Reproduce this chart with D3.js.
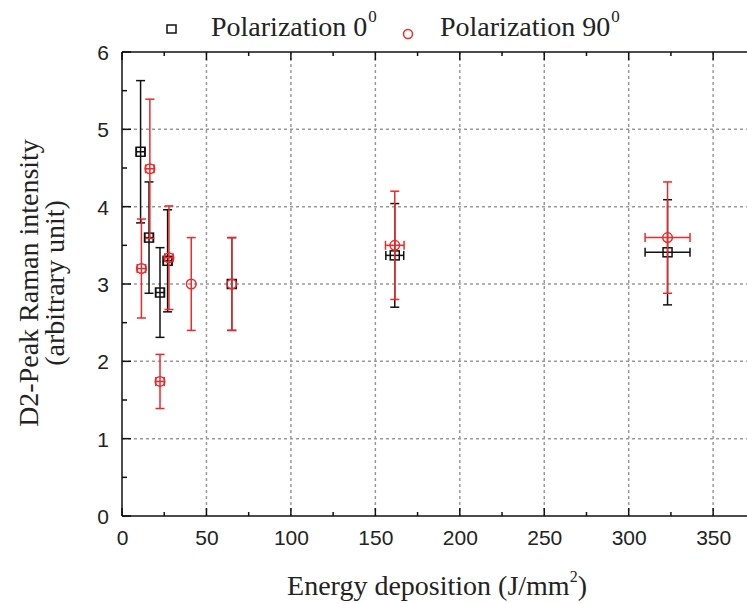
<!DOCTYPE html>
<html>
<head>
<meta charset="utf-8">
<script src="https://cdn.jsdelivr.net/npm/d3@7"></script>
<style>
  body { margin: 0; background: #fff; }
  svg { display: block; }
</style>
</head>
<body>
<div id="chart"></div>
<script>
// Polarization 0 deg (black squares)
const energy0  = [11, 16, 22.5, 27, 65, 161.5, 323];
const pol0     = [4.71, 3.6, 2.89, 3.3, 3.0, 3.37, 3.41];
const pol0Err  = [0.92, 0.72, 0.58, 0.66, 0.6, 0.67, 0.68];
const pol0XErr = [2.5, 2.5, 2.5, 2.5, 0, 5.3, 13.3];

// Polarization 90 deg (red circles)
const energy90  = [11.5, 16.5, 22.5, 27.8, 41, 65, 161.5, 323];
const pol90     = [3.2, 4.49, 1.74, 3.34, 3.0, 3.0, 3.5, 3.6];
const pol90Err  = [0.64, 0.9, 0.35, 0.67, 0.6, 0.6, 0.7, 0.72];
const pol90XErr = [2.5, 2.5, 2.5, 2.5, 0, 0, 5.5, 13.3];

const xTicks = [0, 50, 100, 150, 200, 250, 300, 350];
const yTicks = [0, 1, 2, 3, 4, 5, 6];

const width = 747, height = 604;
const mLeft = 122, mTop = 52, mBottom = 516;
const red = "#f02828";

const svg = d3.select("#chart").append("svg")
  .attr("width", width)
  .attr("height", height);

const x = d3.scaleLinear().domain([0, 372]).range([mLeft, mLeft + 372 * 1.689]);
const y = d3.scaleLinear().domain([0, 6]).range([mBottom, mTop]);

// grid
const grid = svg.append("g")
  .attr("stroke", "#999")
  .attr("stroke-width", 1.5)
  .attr("stroke-dasharray", "3,3");
grid.selectAll(".gx").data(xTicks.filter(d => d > 0)).enter().append("line")
  .attr("x1", d => x(d)).attr("x2", d => x(d))
  .attr("y1", mTop).attr("y2", mBottom);
grid.selectAll(".gy").data(yTicks.filter(d => d > 0 && d < 6)).enter().append("line")
  .attr("x1", mLeft).attr("x2", x(372))
  .attr("y1", d => y(d)).attr("y2", d => y(d));

// axes (ticks pointing inward)
const minorX = d3.range(25, 372, 50);
const minorY = d3.range(0.5, 6, 1);

svg.append("g")
  .attr("transform", `translate(0,${mBottom})`)
  .call(d3.axisBottom(x).tickValues(xTicks).tickSize(0).tickPadding(14))
  .call(g => g.select(".domain").remove())
  .selectAll("text")
  .attr("font-family", "Liberation Sans, Arial, sans-serif")
  .attr("font-size", 21)
  .attr("fill", "#222");

svg.append("g")
  .attr("transform", `translate(${mLeft},0)`)
  .call(d3.axisLeft(y).tickValues(yTicks).tickFormat(d3.format("d")).tickSize(0).tickPadding(13))
  .call(g => g.select(".domain").remove())
  .selectAll("text")
  .attr("font-family", "Liberation Sans, Arial, sans-serif")
  .attr("font-size", 21)
  .attr("fill", "#222")
  .attr("dy", "0.36em");

const frame = svg.append("g").attr("stroke", "#111").attr("stroke-width", 1.5);
frame.append("line").attr("x1", mLeft).attr("x2", x(372)).attr("y1", mBottom).attr("y2", mBottom);
frame.append("line").attr("x1", mLeft).attr("x2", x(372)).attr("y1", mTop).attr("y2", mTop);
frame.append("line").attr("x1", mLeft).attr("x2", mLeft).attr("y1", mTop).attr("y2", mBottom);

// x ticks on bottom and top
[[xTicks, 8], [minorX, 4]].forEach(([vals, len]) => {
  frame.selectAll(null).data(vals).enter().append("line")
    .attr("x1", d => x(d)).attr("x2", d => x(d))
    .attr("y1", mBottom).attr("y2", mBottom - len);
  frame.selectAll(null).data(vals).enter().append("line")
    .attr("x1", d => x(d)).attr("x2", d => x(d))
    .attr("y1", mTop).attr("y2", mTop + len);
});
[[yTicks, 9], [minorY, 5]].forEach(([vals, len]) => {
  frame.selectAll(null).data(vals).enter().append("line")
    .attr("x1", mLeft).attr("x2", mLeft + len)
    .attr("y1", d => y(d)).attr("y2", d => y(d));
});

// error bars + markers
function drawSeries(xs, ys, yerr, xerr, color, shape) {
  const g = svg.append("g").attr("stroke", color).attr("stroke-width", 1.5).attr("fill", "none");
  const data = xs.map((d, i) => ({ x: d, y: ys[i], e: yerr[i], xe: xerr[i] }));
  const cap = 4.5;
  data.forEach(d => {
    const cx = x(d.x), cy = y(d.y);
    g.append("line").attr("x1", cx).attr("x2", cx).attr("y1", y(d.y + d.e)).attr("y2", y(d.y - d.e));
    g.append("line").attr("x1", cx - cap).attr("x2", cx + cap).attr("y1", y(d.y + d.e)).attr("y2", y(d.y + d.e));
    g.append("line").attr("x1", cx - cap).attr("x2", cx + cap).attr("y1", y(d.y - d.e)).attr("y2", y(d.y - d.e));
    if (d.xe > 0) {
      g.append("line").attr("x1", x(d.x - d.xe)).attr("x2", x(d.x + d.xe)).attr("y1", cy).attr("y2", cy);
      g.append("line").attr("x1", x(d.x - d.xe)).attr("x2", x(d.x - d.xe)).attr("y1", cy - cap).attr("y2", cy + cap);
      g.append("line").attr("x1", x(d.x + d.xe)).attr("x2", x(d.x + d.xe)).attr("y1", cy - cap).attr("y2", cy + cap);
    }
    if (shape === "square") {
      g.append("rect").attr("x", cx - 4.5).attr("y", cy - 4.5).attr("width", 9).attr("height", 9);
    } else {
      g.append("circle").attr("cx", cx).attr("cy", cy).attr("r", 4.8);
    }
  });
}
drawSeries(energy0, pol0, pol0Err, pol0XErr, "#111", "square");
drawSeries(energy90, pol90, pol90Err, pol90XErr, red, "circle");

// axis titles
const serif = "Liberation Serif, Times New Roman, serif";
const xt = svg.append("text")
  .attr("x", 437).attr("y", 595)
  .attr("text-anchor", "middle")
  .attr("font-family", serif).attr("font-size", 28).attr("fill", "#222");
xt.append("tspan").text("Energy deposition (J/mm");
xt.append("tspan").attr("font-size", 16).attr("dy", -13).text("2");
xt.append("tspan").attr("dy", 13).text(")");

const yt = svg.append("g").attr("transform", "translate(0,283) rotate(-90)");
yt.append("text").attr("x", 0).attr("y", 38)
  .attr("text-anchor", "middle")
  .attr("font-family", serif).attr("font-size", 28).attr("fill", "#222")
  .text("D2-Peak Raman intensity");
yt.append("text").attr("x", 0).attr("y", 64)
  .attr("text-anchor", "middle")
  .attr("font-family", serif).attr("font-size", 28).attr("fill", "#222")
  .text("(arbitrary unit)");

// legend
const leg = svg.append("g");
leg.append("rect").attr("x", 167).attr("y", 25).attr("width", 9).attr("height", 8)
  .attr("fill", "none").attr("stroke", "#111").attr("stroke-width", 1.5);
const l1 = leg.append("text").attr("x", 211).attr("y", 36)
  .attr("font-family", serif).attr("font-size", 28).attr("fill", "#222");
l1.append("tspan").text("Polarization 0");
l1.append("tspan").attr("font-size", 17).attr("dx", 1).attr("dy", -14).text("0");

leg.append("circle").attr("cx", 408).attr("cy", 34).attr("r", 4.5)
  .attr("fill", "none").attr("stroke", red).attr("stroke-width", 1.5);
const l2 = leg.append("text").attr("x", 440).attr("y", 36)
  .attr("font-family", serif).attr("font-size", 28).attr("fill", "#222");
l2.append("tspan").text("Polarization 90");
l2.append("tspan").attr("font-size", 17).attr("dx", 1).attr("dy", -14).text("0");
</script>
</body>
</html>
